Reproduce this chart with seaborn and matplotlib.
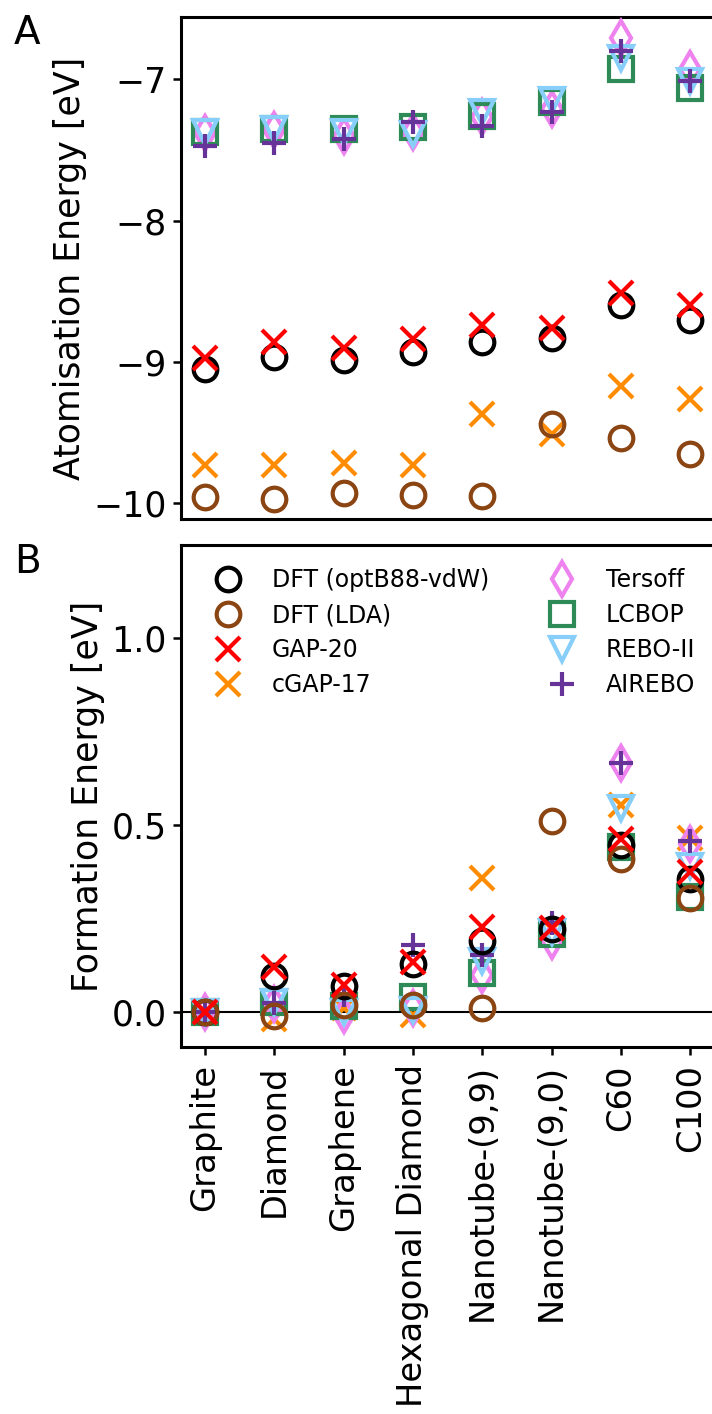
import numpy as np
import pandas as pd
import matplotlib
matplotlib.use("Agg")
import matplotlib.pyplot as plt
import seaborn as sns

# ---------------- data ----------------
structures = ["Graphite", "Diamond", "Graphene", "Hexagonal Diamond",
              "Nanotube-(9,9)", "Nanotube-(9,0)", "C60", "C100"]

methods = ["DFT (optB88-vdW)", "DFT (LDA)", "GAP-20", "cGAP-17",
           "Tersoff", "LCBOP", "REBO-II", "AIREBO"]

atom_dft_optb88 = [-9.05, -8.965, -8.99, -8.93, -8.86, -8.83, -8.60, -8.705]
atom_dft_lda = [-9.96, -9.97, -9.93, -9.94, -9.95, -9.44, -9.54, -9.65]
atom_gap20 = [-8.97, -8.86, -8.90, -8.84, -8.74, -8.76, -8.51, -8.60]
atom_cgap17 = [-9.73, -9.73, -9.72, -9.73, -9.37, -9.51, -9.17, -9.26]
atom_tersoff = [-7.38, -7.36, -7.40, -7.37, -7.27, -7.21, -6.71, -6.93]
atom_lcbop = [-7.37, -7.35, -7.35, -7.34, -7.26, -7.16, -6.93, -7.06]
atom_rebo2 = [-7.37, -7.35, -7.37, -7.39, -7.23, -7.15, -6.85, -7.01]
atom_airebo = [-7.47, -7.45, -7.42, -7.30, -7.33, -7.23, -6.80, -7.01]

form_dft_optb88 = [0.0, 0.094, 0.069, 0.127, 0.19, 0.22, 0.446, 0.355]
form_dft_lda = [0.0, -0.013, 0.018, 0.018, 0.009, 0.511, 0.408, 0.303]
form_gap20 = [0.0, 0.12, 0.071, 0.134, 0.227, 0.223, 0.462, 0.374]
form_cgap17 = [0.0, -0.02, 0.01, -0.009, 0.358, 0.22, 0.553, 0.464]
form_tersoff = [0.0, 0.02, -0.01, 0.01, 0.098, 0.188, 0.665, 0.45]
form_lcbop = [0.0, 0.025, 0.015, 0.04, 0.102, 0.208, 0.441, 0.307]
form_rebo2 = [0.0, 0.025, 0.0, 0.005, 0.136, 0.212, 0.546, 0.39]
form_airebo = [0.0, 0.022, 0.045, 0.178, 0.152, 0.236, 0.666, 0.457]

atom_values = [atom_dft_optb88, atom_dft_lda, atom_gap20, atom_cgap17,
               atom_tersoff, atom_lcbop, atom_rebo2, atom_airebo]
form_values = [form_dft_optb88, form_dft_lda, form_gap20, form_cgap17,
               form_tersoff, form_lcbop, form_rebo2, form_airebo]

colors = ["black", "saddlebrown", "red", "darkorange",
          "violet", "seagreen", "lightskyblue", "rebeccapurple"]
markers = ["o", "o", "x", "x", "d", "s", "v", "+"]
zorders = [7, 8, 9, 2, 3, 4, 5, 6]


def long_frame(values):
    rows = []
    for m, vals in zip(methods, values):
        for i, v in enumerate(vals):
            rows.append({"method": m, "pos": i, "structure": structures[i], "value": v})
    return pd.DataFrame(rows)


df_atom = long_frame(atom_values)
df_form = long_frame(form_values)

# ---------------- figure ----------------
sns.set_style("ticks")
plt.rcParams["font.family"] = ["DejaVu Sans"]
plt.rcParams["text.color"] = "black"
plt.rcParams["axes.labelcolor"] = "black"
plt.rcParams["xtick.color"] = "black"
plt.rcParams["ytick.color"] = "black"
plt.rcParams["axes.edgecolor"] = "black"

W, H = 712, 1414
fig = plt.figure(figsize=(W / 100, H / 100), dpi=100)

left = 181 / W
width = 551 / W
axA = fig.add_axes([left, 1 - 519 / H, width, 502 / H])
axB = fig.add_axes([left, 1 - 1047 / H, width, 502 / H])

MS, MEW = 17, 3


def draw(ax, df):
    for m, c, mk, z in zip(methods, colors, markers, zorders):
        sub = df[df["method"] == m]
        sns.lineplot(data=sub, x="pos", y="value", ax=ax, marker=mk, linestyle="",
                     ms=MS, mfc="none", mec=c, mew=MEW, color=c, label=m,
                     zorder=z, legend=False, errorbar=None, sort=False)


draw(axA, df_atom)
draw(axB, df_form)

axB.axhline(0, color="black", lw=1.5, zorder=1)

for ax in (axA, axB):
    ax.set_xlim(-0.345, 7.6)
    ax.set_xticks(range(len(structures)))
    for s in ax.spines.values():
        s.set_linewidth(2.2)
        s.set_color("black")
    ax.tick_params(axis="both", length=5.5, width=1.8, colors="black")
    ax.tick_params(axis="y", pad=5, labelsize=25)
    ax.tick_params(axis="x", pad=7, labelsize=24.3)
    ax.set_xlabel("")

axA.set_ylim(-10.113, -6.559)
axA.set_yticks([-10, -9, -8, -7])
axA.tick_params(axis="x", bottom=False, labelbottom=False)
axA.set_ylabel("Atomisation Energy [eV]", fontsize=25, color="black")

axB.set_ylim(-0.095, 1.25)
axB.set_yticks([0.0, 0.5, 1.0])
axB.set_yticklabels(["0.0", "0.5", "1.0"])
axB.set_xticklabels(structures, rotation=90)
axB.set_ylabel("Formation Energy [eV]", fontsize=25, color="black")

handles, labels = axB.get_legend_handles_labels()
leg = axB.legend(handles, labels, ncol=2, loc="upper left", frameon=False,
                 fontsize=17, columnspacing=2.1, handletextpad=0.86,
                 labelspacing=0.47, borderpad=0.4, borderaxespad=0.58)
for t in leg.get_texts():
    t.set_color("black")

fig.text(14 / W, 1 - 14 / H, "A", fontsize=28, ha="left", va="top", color="black")
fig.text(14 / W, 1 - 543 / H, "B", fontsize=28, ha="left", va="top", color="black")

fig.savefig("out.png", dpi=100)
